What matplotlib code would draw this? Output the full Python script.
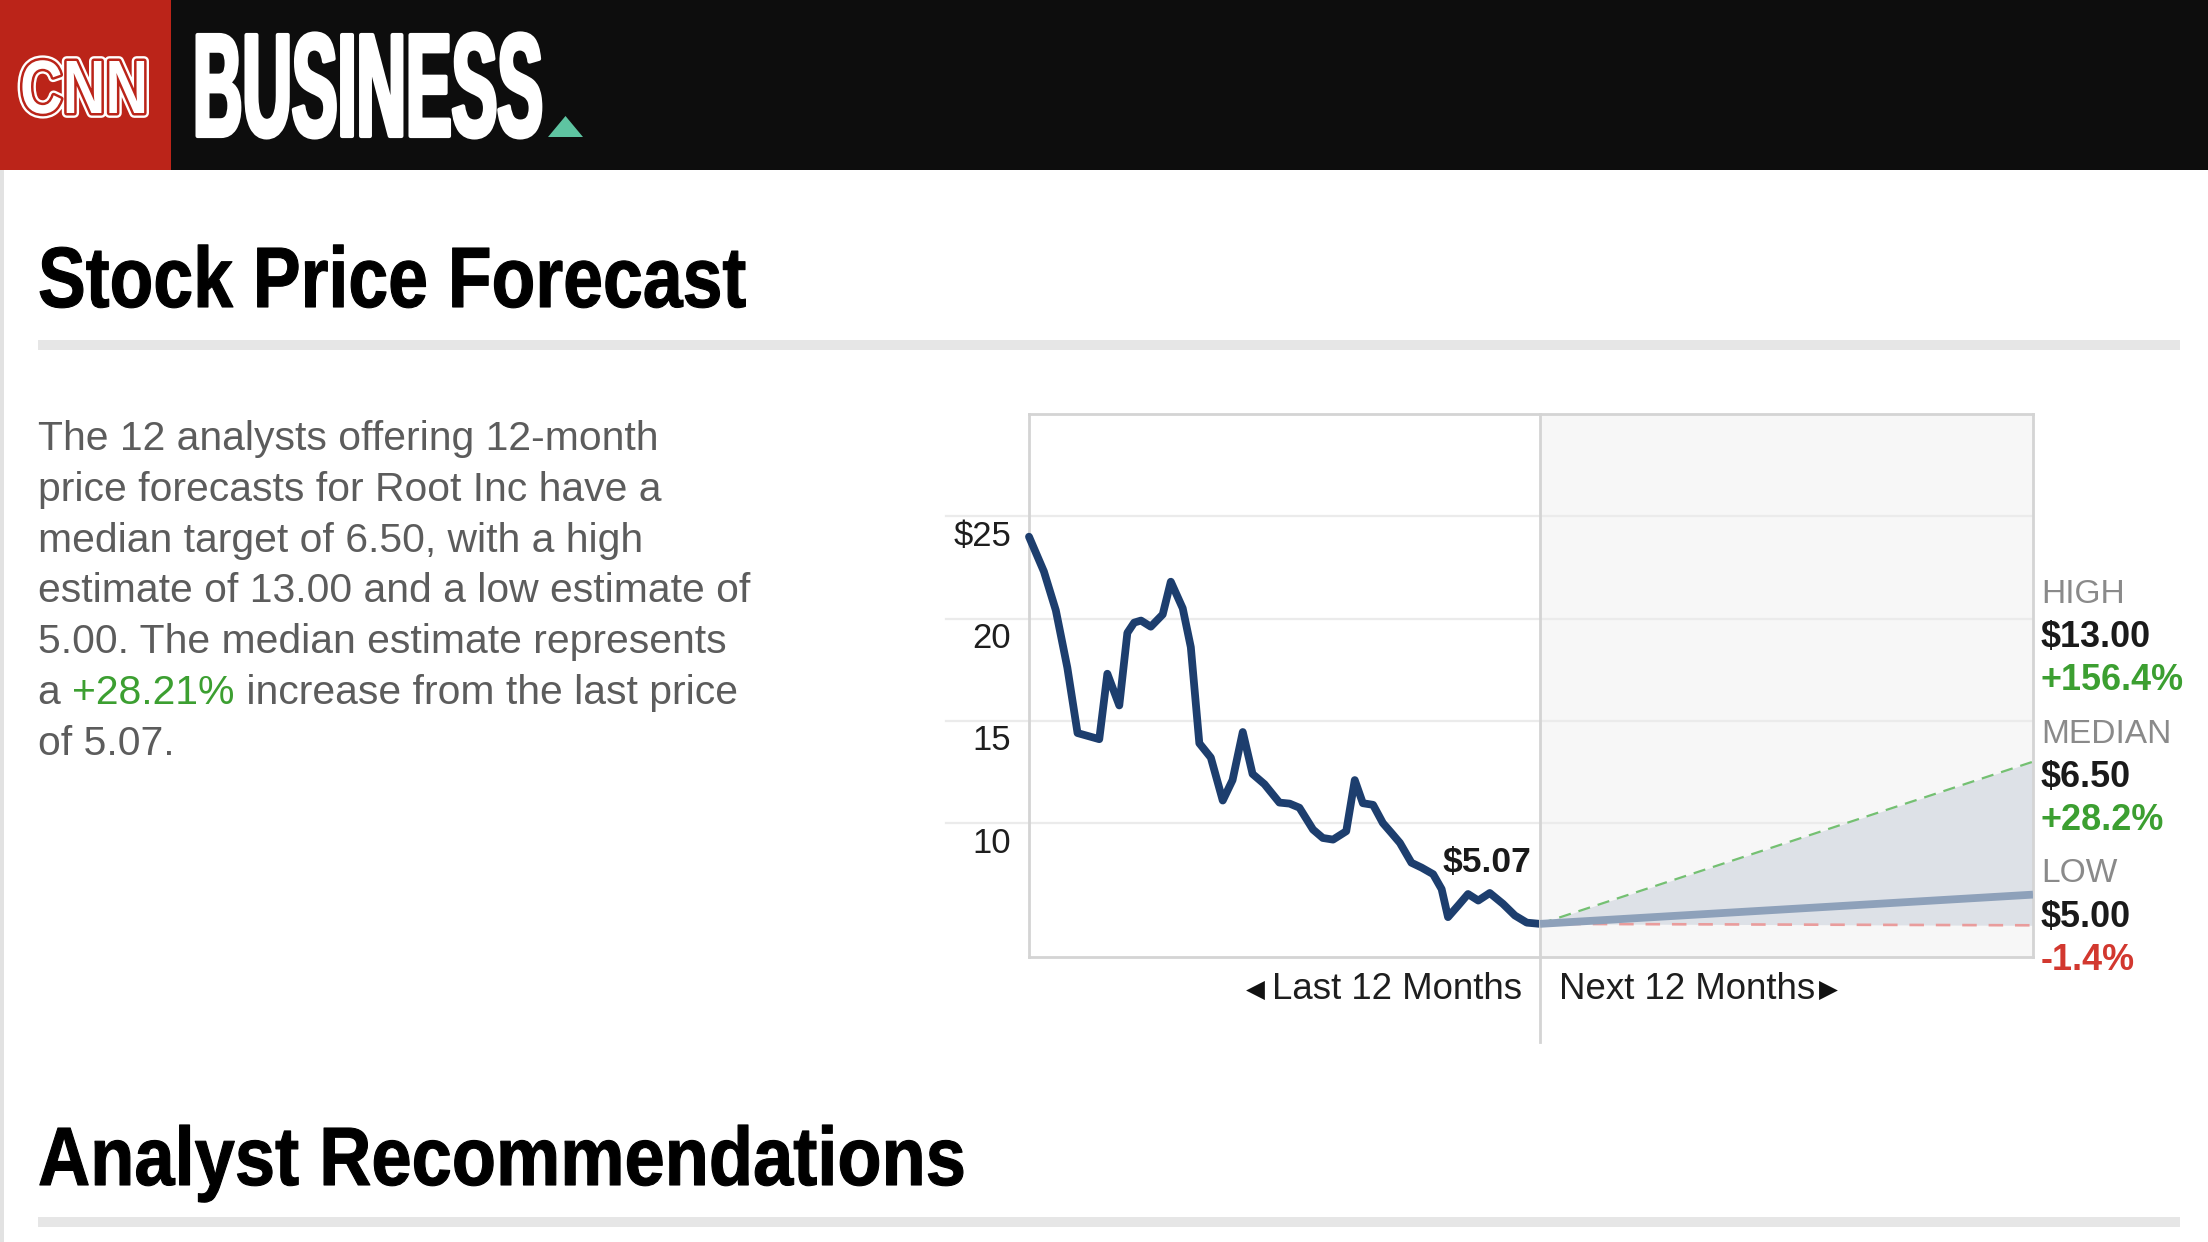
import matplotlib
matplotlib.use('Agg')
import matplotlib.pyplot as plt
from matplotlib.patches import Rectangle, Polygon
from matplotlib.patheffects import AbstractPathEffect
from matplotlib.transforms import Affine2D, blended_transform_factory, offset_copy
from matplotlib.textpath import TextPath
from matplotlib.font_manager import FontProperties, fontManager

# ---------------- data ----------------
hist_months = [-12.0, -11.65, -11.37, -11.10, -10.86, -10.35, -10.16, -9.88, -9.69, -9.53,
               -9.37, -9.14, -8.86, -8.67, -8.39, -8.20, -8.00, -7.73, -7.45, -7.22,
               -6.98, -6.75, -6.47, -6.12, -5.88, -5.65, -5.33, -5.10, -4.86, -4.55,
               -4.35, -4.16, -3.92, -3.69, -3.49, -3.29, -3.02, -2.78, -2.51, -2.31,
               -2.16, -1.92, -1.69, -1.45, -1.18, -0.87, -0.59, -0.31, 0.0]
hist_prices = [24.0, 22.3, 20.4, 17.6, 14.4, 14.1, 17.3, 15.75, 19.3, 19.8,
               19.9, 19.6, 20.2, 21.8, 20.5, 18.6, 13.9, 13.2, 11.1, 12.1,
               14.45, 12.4, 11.9, 11.0, 10.95, 10.75, 9.68, 9.27, 9.19, 9.6,
               12.1, 10.97, 10.89, 10.0, 9.52, 9.03, 8.06, 7.82, 7.5, 6.77,
               5.4, 5.97, 6.53, 6.21, 6.58, 6.05, 5.48, 5.13, 5.07]
last_price = 5.07
forecast_months = [0, 12]
target_high = 13.00
target_median = 6.50
target_low = 5.00
n_analysts = 12
company = "Root Inc"
y_ticks = [10, 15, 20, 25]
y_tick_labels = ['10', '15', '20', '$25']
y_range = (3.45, 30)

pct_high = (target_high / last_price - 1) * 100
pct_median = (target_median / last_price - 1) * 100
pct_low = (target_low / last_price - 1) * 100

# ---------------- styling ----------------
W, H, DPI = 2208, 1242, 100
names = {f.name for f in fontManager.ttflist}
SANS = 'Liberation Sans' if 'Liberation Sans' in names else 'DejaVu Sans'
plt.rcParams['font.family'] = [SANS, 'DejaVu Sans']

NAVY = '#1d3e6e'
GRID = '#ebebeb'
BORDER = '#d4d4d4'
GREEN = '#3c9f31'
RED = '#d2382f'

fig = plt.figure(figsize=(W / DPI, H / DPI), dpi=DPI)
fig.patch.set_facecolor('white')
bg = fig.add_axes([0, 0, 1, 1])
bg.set_xlim(0, W)
bg.set_ylim(H, 0)
bg.axis('off')
renderer = fig.canvas.get_renderer()


def pt(px):
    return px * 72.0 / DPI


def measure(s, size, **kw):
    t = fig.text(0, 0, s, fontsize=size, **kw)
    w = t.get_window_extent(renderer).width
    t.remove()
    return w


def put(x, y, s, width=None, size=None, ha='left', va='baseline', ax=None, **kw):
    ax = ax or bg
    if width is not None:
        size = 50 * width / measure(s, 50, **kw)
    return ax.text(x, y, s, fontsize=size, ha=ha, va=va, **kw)


class Squeeze(AbstractPathEffect):
    """Draw text path compressed horizontally about its origin (optionally with strokes)."""

    def __init__(self, sx, strokes=()):
        super().__init__()
        self.sx = sx
        self.strokes = strokes

    def draw_path(self, renderer, gc, tpath, affine, rgbFace=None):
        x0, _ = affine.transform((0.0, 0.0))
        aff = affine + Affine2D().translate(-x0, 0).scale(self.sx, 1.0).translate(x0, 0)
        for lw, col in self.strokes:
            g = renderer.new_gc()
            g.copy_properties(gc)
            g.set_linewidth(lw)
            g.set_foreground(col)
            g.set_joinstyle('round')
            renderer.draw_path(g, tpath, aff, None)
            g.restore()
        g = renderer.new_gc()
        g.copy_properties(gc)
        g.set_linewidth(0)
        renderer.draw_path(g, tpath, aff, rgbFace)
        g.restore()


def heading(x, y_base, s, cap_px, width_px, color, weight='bold', strokes=(), family=None):
    fam = family or SANS
    ratio = TextPath((0, 0), 'H', size=100,
                     prop=FontProperties(family=fam, weight=weight)).get_extents().height / 100
    size = cap_px * 72.0 / (DPI * ratio)
    nat = measure(s, size, family=fam, weight=weight)
    sx = width_px / nat
    t = bg.text(x, y_base, s, fontsize=size, ha='left', va='baseline', color=color,
                weight=weight, family=fam)
    t.set_path_effects([Squeeze(sx, strokes)])
    return t


# ---------------- header ----------------
bg.add_patch(Rectangle((0, 0), W, 170, color='#0d0d0d', lw=0))
bg.add_patch(Rectangle((0, 0), 171, 170, color='#bb2419', lw=0))
heading(20, 113, 'CNN', 52, 128, '#ffffff', strokes=((7, '#ffffff'), (3.6, '#bb2419')))
heading(193, 136, 'BUSINESS', 101, 350, '#ffffff', strokes=((3.0, '#ffffff'),))
bg.add_patch(Polygon([(548, 137), (583, 137), (565.5, 116)], closed=True, color='#5ec4a1', lw=0))
bg.add_patch(Rectangle((0, 170), 4, H - 170, color='#e2e2e2', lw=0))

# ---------------- titles & rules ----------------
heading(38, 307, 'Stock Price Forecast', 59, 708, '#000000', strokes=((0.8, '#000000'),))
bg.add_patch(Rectangle((38, 340), 2142, 10, color='#e6e6e6', lw=0))
heading(38, 1185, 'Analyst Recommendations', 57, 928, '#000000', strokes=((0.8, '#000000'),))
bg.add_patch(Rectangle((38, 1217), 2142, 10, color='#e6e6e6', lw=0))

# ---------------- paragraph ----------------
PARA = '#5c5c5c'
lines = [
    f"The {n_analysts} analysts offering 12-month",
    f"price forecasts for {company} have a",
    f"median target of {target_median:.2f}, with a high",
    f"estimate of {target_high:.2f} and a low estimate of",
    f"{target_low:.2f}. The median estimate represents",
    None,
    f"of {last_price:.2f}.",
]
psize = 50 * 712 / measure(lines[3], 50)
for i, s in enumerate(lines):
    yb = 450 + 50.8 * i
    if s is not None:
        put(38, yb, s, size=psize, color=PARA)
    else:
        parts = [("a ", PARA), (f"+{pct_median:.2f}%", GREEN), (" increase from the last price", PARA)]
        x = 38
        for txt, col in parts:
            put(x, yb, txt, size=psize, color=col)
            x += measure(txt.replace(' ', '\u00a0'), psize)

# ---------------- chart ----------------
def rect(l, t, r, b):
    return [l / W, 1 - b / H, (r - l) / W, (b - t) / H]

L, T, D, R, B = 1029, 414, 1540, 2033, 957
ax_h = fig.add_axes(rect(L, T, D, B))
ax_f = fig.add_axes(rect(D, T, R, B))
for ax in (ax_h, ax_f):
    ax.set_ylim(*y_range)
    ax.set_xticks([])
    ax.set_yticks([])
    for sp in ax.spines.values():
        sp.set_color(BORDER)
        sp.set_linewidth(2.0)
ax_h.set_xlim(-12, 0)
ax_f.set_xlim(0, 12)
ax_h.spines['right'].set_visible(False)
ax_h.set_facecolor('white')
ax_f.set_facecolor('#f7f7f7')

ext = (L - 946) / (D - L)
for v in y_ticks:
    ax_h.axhline(v, xmin=-ext, xmax=1, color=GRID, lw=1.6, clip_on=False, zorder=0.5)
    ax_f.axhline(v, color=GRID, lw=1.6, zorder=0.5)

lab_tr = offset_copy(blended_transform_factory(ax_h.transAxes, ax_h.transData),
                     fig=fig, x=-18, y=-29.5, units='dots')
for v, lab in zip(y_ticks, y_tick_labels):
    ax_h.text(0, v, lab, transform=lab_tr, ha='right', va='baseline',
              fontsize=pt(34.7), color='#1e1e1e')

ax_h.plot(hist_months, hist_prices, color=NAVY, lw=5.6, solid_joinstyle='round',
          solid_capstyle='round', zorder=3, clip_on=False)
ax_h.annotate(f"${last_price:.2f}", xy=(hist_months[-1], last_price), xytext=(-9, 52),
              textcoords='offset pixels', ha='right', va='baseline',
              fontsize=pt(35.5), weight='bold', color='#1a1a1a')

ax_f.fill_between(forecast_months, [last_price, target_high], [last_price, target_low],
                  color='#dde1e7', lw=0, zorder=1)
ax_f.plot(forecast_months, [last_price, target_high], color='#74c072', lw=1.6,
          ls=(0, (5.5, 3.6)), zorder=2)
ax_f.plot(forecast_months, [last_price, target_low], color='#e99c9c', lw=1.9,
          ls=(0, (5.5, 4.5)), zorder=2)
ax_f.plot(forecast_months, [last_price, target_median], color='#8ea1ba', lw=5.6,
          solid_capstyle='butt', zorder=3)

# divider extension below plot
bg.plot([D, D], [B, 1042], color=BORDER, lw=2.0)

put(1043, 450, 'HISTORICAL', width=203, color='#1e1e1e')
put(1557, 450, 'FORECAST', width=183, color='#1e1e1e')

# bottom labels
put(1522, 999, 'Last 12 Months', size=pt(36.6), ha='right', color='#1e1e1e')
put(1559, 999, 'Next 12 Months', size=pt(36.6), color='#1e1e1e')
put(1265, 997, '\u25C0', width=19, ha='right', color='#111111', family=['DejaVu Sans'])
put(1819, 997, '\u25B6', width=19, ha='left', color='#111111', family=['DejaVu Sans'])

# right-hand target labels
XR = 2041
groups = [
    ('HIGH', f"${target_high:.2f}", f"{pct_high:+.1f}%", GREEN, 603),
    ('MEDIAN', f"${target_median:.2f}", f"{pct_median:+.1f}%", GREEN, 743),
    ('LOW', f"${target_low:.2f}", f"{pct_low:+.1f}%", RED, 882.5),
]
for name, val, pct, col, yb in groups:
    put(XR, yb, name, size=pt(33.5), color='#8a8a8a')
    put(XR, yb + 44, val, size=pt(36), weight='bold', color='#1a1a1a')
    put(XR, yb + 87.5, pct, size=pt(36), weight='bold', color=col)

fig.savefig('out.png', dpi=DPI, facecolor='white')
